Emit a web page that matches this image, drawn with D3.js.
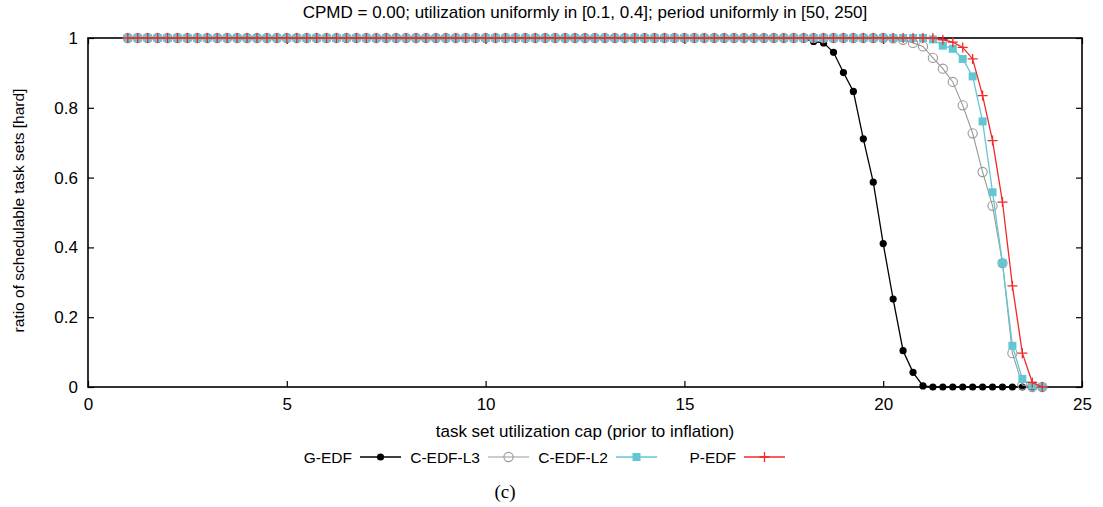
<!DOCTYPE html>
<html>
<head>
<meta charset="utf-8">
<script src="https://cdn.jsdelivr.net/npm/d3@7"></script>
<style>
  body { margin: 0; background: #fff; }
  text { font-family: "Liberation Sans", Arial, sans-serif; fill: #000; }
</style>
</head>
<body>
<div id="chart"></div>
<script>

// --> DATA

var utilCap = [1, 1.25, 1.5, 1.75, 2, 2.25, 2.5, 2.75, 3, 3.25, 3.5, 3.75, 4, 4.25, 4.5, 4.75,
    5, 5.25, 5.5, 5.75, 6, 6.25, 6.5, 6.75, 7, 7.25, 7.5, 7.75, 8, 8.25, 8.5, 8.75,
    9, 9.25, 9.5, 9.75, 10, 10.25, 10.5, 10.75, 11, 11.25, 11.5, 11.75, 12, 12.25, 12.5, 12.75,
    13, 13.25, 13.5, 13.75, 14, 14.25, 14.5, 14.75, 15, 15.25, 15.5, 15.75, 16, 16.25, 16.5, 16.75,
    17, 17.25, 17.5, 17.75, 18, 18.25, 18.5, 18.75, 19, 19.25, 19.5, 19.75, 20, 20.25, 20.5, 20.75,
    21, 21.25, 21.5, 21.75, 22, 22.25, 22.5, 22.75, 23, 23.25, 23.5, 23.75, 24];

var gEdf = [1, 1, 1, 1, 1, 1, 1, 1, 1, 1, 1, 1, 1, 1, 1, 1,
    1, 1, 1, 1, 1, 1, 1, 1, 1, 1, 1, 1, 1, 1, 1, 1,
    1, 1, 1, 1, 1, 1, 1, 1, 1, 1, 1, 1, 1, 1, 1, 1,
    1, 1, 1, 1, 1, 1, 1, 1, 1, 1, 1, 1, 1, 1, 1, 1,
    1, 1, 1, 1, 0.998, 0.99, 0.986, 0.959, 0.901, 0.847, 0.711, 0.587, 0.411, 0.252, 0.104, 0.042,
    0.003, 0, 0, 0, 0, 0, 0, 0, 0, 0, 0, 0, 0];

var cEdfL3 = [1, 1, 1, 1, 1, 1, 1, 1, 1, 1, 1, 1, 1, 1, 1, 1,
    1, 1, 1, 1, 1, 1, 1, 1, 1, 1, 1, 1, 1, 1, 1, 1,
    1, 1, 1, 1, 1, 1, 1, 1, 1, 1, 1, 1, 1, 1, 1, 1,
    1, 1, 1, 1, 1, 1, 1, 1, 1, 1, 1, 1, 1, 1, 1, 1,
    1, 1, 1, 1, 1, 1, 1, 1, 1, 1, 1, 1, 1, 0.999, 0.995, 0.986,
    0.976, 0.943, 0.912, 0.874, 0.807, 0.727, 0.616, 0.519, 0.355, 0.097, 0.006, 0, 0];

var cEdfL2 = [1, 1, 1, 1, 1, 1, 1, 1, 1, 1, 1, 1, 1, 1, 1, 1,
    1, 1, 1, 1, 1, 1, 1, 1, 1, 1, 1, 1, 1, 1, 1, 1,
    1, 1, 1, 1, 1, 1, 1, 1, 1, 1, 1, 1, 1, 1, 1, 1,
    1, 1, 1, 1, 1, 1, 1, 1, 1, 1, 1, 1, 1, 1, 1, 1,
    1, 1, 1, 1, 1, 1, 1, 1, 1, 1, 1, 1, 1, 1, 1, 1,
    1, 0.996, 0.978, 0.969, 0.94, 0.89, 0.761, 0.558, 0.355, 0.118, 0.023, 0.004, 0];

var pEdf = [1, 1, 1, 1, 1, 1, 1, 1, 1, 1, 1, 1, 1, 1, 1, 1,
    1, 1, 1, 1, 1, 1, 1, 1, 1, 1, 1, 1, 1, 1, 1, 1,
    1, 1, 1, 1, 1, 1, 1, 1, 1, 1, 1, 1, 1, 1, 1, 1,
    1, 1, 1, 1, 1, 1, 1, 1, 1, 1, 1, 1, 1, 1, 1, 1,
    1, 1, 1, 1, 1, 1, 1, 1, 1, 1, 1, 1, 1, 1, 1, 1,
    1, 1, 0.995, 0.988, 0.973, 0.94, 0.835, 0.706, 0.53, 0.29, 0.097, 0.013, 0];

var seriesNames = ["G-EDF", "C-EDF-L3", "C-EDF-L2", "P-EDF"];
var xTicks = [0, 5, 10, 15, 20, 25];
var yTicks = [0, 0.2, 0.4, 0.6, 0.8, 1];

// --> STYLE

var seriesStyle = [
    { color: "#000000", symbol: "dot", width: 1.3 },
    { color: "#999999", symbol: "ring", width: 1.1 },
    { color: "#63c7d3", symbol: "square", width: 1.3 },
    { color: "#f02a2a", symbol: "plus", width: 1.3 }
];

var seriesValues = [gEdf, cEdfL3, cEdfL2, pEdf];

// --> CREATE SVG DRAWING AREA

var width = 1103,
    height = 507;

var margin = { top: 38, right: 21, bottom: 120, left: 88 };
var plotW = width - margin.left - margin.right,
    plotH = height - margin.top - margin.bottom;

var svg = d3.select("#chart").append("svg")
    .attr("width", width)
    .attr("height", height);

var g = svg.append("g")
    .attr("transform", "translate(" + margin.left + "," + margin.top + ")");

var x = d3.scaleLinear().domain([0, 25]).range([0, plotW]);
var y = d3.scaleLinear().domain([0, 1]).range([plotH, 0]);

// ticks inside on all four sides, like gnuplot mirror tics
var tickLen = 6;

g.append("g")
    .attr("transform", "translate(0," + plotH + ")")
    .call(d3.axisBottom(x).tickValues(xTicks).tickSizeInner(-tickLen).tickSizeOuter(0).tickPadding(11))
    .call(styleAxis);

g.append("g")
    .call(d3.axisTop(x).tickValues(xTicks).tickSizeInner(-tickLen).tickSizeOuter(0).tickFormat(""))
    .call(styleAxis);

g.append("g")
    .call(d3.axisLeft(y).tickValues(yTicks).tickSizeInner(-tickLen).tickSizeOuter(0).tickPadding(10)
        .tickFormat(function (d) { return d3.format("")(+d.toFixed(1)); }))
    .call(styleAxis);

g.append("g")
    .attr("transform", "translate(" + plotW + ",0)")
    .call(d3.axisRight(y).tickValues(yTicks).tickSizeInner(-tickLen).tickSizeOuter(0).tickFormat(""))
    .call(styleAxis);

function styleAxis(sel) {
    sel.select(".domain").remove();
    sel.selectAll(".tick line").attr("stroke", "#000").attr("stroke-width", 1.2);
    sel.selectAll(".tick text")
        .style("font-family", "'Liberation Sans', Arial, sans-serif")
        .style("font-size", "17px")
        .attr("fill", "#000");
}

// border box
g.append("rect")
    .attr("width", plotW)
    .attr("height", plotH)
    .attr("fill", "none")
    .attr("stroke", "#000")
    .attr("stroke-width", 1.6);

// --> SERIES

var line = d3.line()
    .x(function (d) { return x(d[0]); })
    .y(function (d) { return y(d[1]); });

function drawSymbol(sel, style) {
    if (style.symbol === "dot") {
        sel.append("circle").attr("r", 3.6).attr("fill", style.color);
    } else if (style.symbol === "ring") {
        sel.append("circle").attr("r", 4.6).attr("fill", "none")
            .attr("stroke", style.color).attr("stroke-width", 1.1);
    } else if (style.symbol === "square") {
        sel.append("rect").attr("x", -4).attr("y", -4).attr("width", 8).attr("height", 8)
            .attr("fill", style.color);
    } else {
        sel.append("path").attr("d", "M-5,0H5M0,-5V5")
            .attr("stroke", style.color).attr("stroke-width", 1.3).attr("fill", "none");
    }
}

seriesValues.forEach(function (vals, i) {
    var pts = utilCap.map(function (u, j) { return [u, vals[j]]; });
    var style = seriesStyle[i];
    var sg = g.append("g").attr("class", "series");

    sg.append("path")
        .datum(pts)
        .attr("d", line)
        .attr("fill", "none")
        .attr("stroke", style.color)
        .attr("stroke-width", style.width);

    sg.selectAll("g.pt")
        .data(pts)
        .enter()
        .append("g")
        .attr("class", "pt")
        .attr("transform", function (d) { return "translate(" + x(d[0]) + "," + y(d[1]) + ")"; })
        .each(function () { drawSymbol(d3.select(this), style); });
});

// --> TEXT

svg.append("text")
    .attr("x", margin.left + plotW / 2)
    .attr("y", 18)
    .attr("text-anchor", "middle")
    .style("font-size", "17px")
    .text("CPMD = 0.00; utilization uniformly in [0.1, 0.4]; period uniformly in [50, 250]");

svg.append("text")
    .attr("transform", "translate(24," + (margin.top + plotH / 2 - 2) + ") rotate(-90)")
    .attr("text-anchor", "middle")
    .style("font-size", "15.5px")
    .text("ratio of schedulable task sets [hard]");

svg.append("text")
    .attr("x", margin.left + plotW / 2)
    .attr("y", 437)
    .attr("text-anchor", "middle")
    .style("font-size", "17px")
    .text("task set utilization cap (prior to inflation)");

// --> LEGEND

var legend = svg.append("g").attr("transform", "translate(0,457)");

seriesNames.forEach(function (name, i) {
    var textEnd = 352 + i * 128;
    var style = seriesStyle[i];
    var item = legend.append("g");

    item.append("text")
        .attr("x", textEnd)
        .attr("y", 5.5)
        .attr("text-anchor", "end")
        .style("font-size", "15.5px")
        .text(name);

    item.append("line")
        .attr("x1", textEnd + 8)
        .attr("x2", textEnd + 49)
        .attr("stroke", style.color)
        .attr("stroke-width", style.width);

    var mk = item.append("g").attr("transform", "translate(" + (textEnd + 28.5) + ",0)");
    drawSymbol(mk, style);
});

svg.append("text")
    .attr("x", 505)
    .attr("y", 498)
    .attr("text-anchor", "middle")
    .style("font-family", "'Liberation Serif', 'Times New Roman', serif")
    .style("font-size", "19px")
    .text("(c)");

</script>
</body>
</html>
